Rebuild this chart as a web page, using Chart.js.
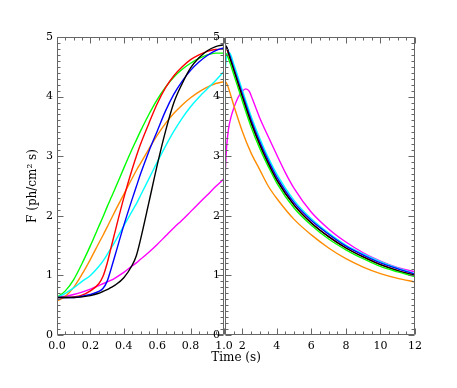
<!DOCTYPE html>
<html>
<head>
<meta charset="utf-8">
<script src="https://cdn.jsdelivr.net/npm/chart.js@4.4.0/dist/chart.umd.min.js"></script>
<style>
  html, body { margin: 0; padding: 0; background: #fff; }
  #wrap { position: relative; width: 457px; height: 388px; }
  #wrap canvas { position: absolute; left: 0; top: 0; }
</style>
</head>
<body>
<div id="wrap">
  <canvas id="riseChart" width="457" height="388"></canvas>
  <canvas id="decayChart" width="457" height="388"></canvas>
</div>
<script>
// rise phase, 0 - 1 s
const riseTime = [0, 0.05, 0.1, 0.15, 0.2, 0.25, 0.275, 0.3, 0.325, 0.35, 0.4, 0.45, 0.475, 0.5, 0.55, 0.6, 0.65, 0.7, 0.75, 0.8, 0.85, 0.9, 0.95, 1.0];
const riseBlack   = [0.63, 0.63, 0.63, 0.64, 0.66, 0.70, 0.73, 0.76, 0.80, 0.84, 0.96, 1.17, 1.33, 1.60, 2.22, 2.85, 3.42, 3.90, 4.22, 4.48, 4.65, 4.77, 4.84, 4.87];
const riseBlue    = [0.63, 0.63, 0.63, 0.65, 0.68, 0.73, 0.78, 0.90, 1.12, 1.36, 1.84, 2.28, 2.49, 2.70, 3.08, 3.42, 3.76, 4.04, 4.26, 4.44, 4.58, 4.69, 4.77, 4.82];
const riseRed     = [0.63, 0.63, 0.64, 0.67, 0.74, 0.86, 0.98, 1.20, 1.48, 1.76, 2.30, 2.78, 3.00, 3.20, 3.55, 3.88, 4.15, 4.35, 4.50, 4.62, 4.70, 4.76, 4.79, 4.80];
const riseGreen   = [0.63, 0.74, 0.93, 1.20, 1.50, 1.82, 1.98, 2.15, 2.31, 2.47, 2.80, 3.12, 3.27, 3.42, 3.70, 3.95, 4.16, 4.33, 4.46, 4.56, 4.64, 4.70, 4.73, 4.73];
const riseOrange  = [0.57, 0.65, 0.80, 1.02, 1.27, 1.54, 1.67, 1.81, 1.95, 2.09, 2.36, 2.63, 2.76, 2.88, 3.12, 3.35, 3.55, 3.72, 3.86, 3.98, 4.08, 4.16, 4.22, 4.25];
const riseCyan    = [0.63, 0.70, 0.79, 0.90, 1.00, 1.15, 1.24, 1.35, 1.46, 1.58, 1.83, 2.08, 2.20, 2.34, 2.62, 2.90, 3.17, 3.42, 3.64, 3.83, 3.99, 4.13, 4.27, 4.42];
const riseMagenta = [0.63, 0.65, 0.68, 0.72, 0.77, 0.83, 0.86, 0.89, 0.92, 0.96, 1.05, 1.16, 1.21, 1.27, 1.39, 1.52, 1.66, 1.80, 1.93, 2.07, 2.21, 2.35, 2.49, 2.62];

// decay phase, 1 - 12 s
const decayTime = [1, 1.1, 1.25, 1.5, 2, 2.5, 3, 3.5, 4, 5, 6, 7, 8, 9, 10, 11, 12];
const decayBlack  = [4.87, 4.83, 4.68, 4.45, 4.00, 3.57, 3.20, 2.88, 2.60, 2.18, 1.88, 1.65, 1.46, 1.31, 1.18, 1.08, 1.00];
const decayBlue   = [4.82, 4.82, 4.71, 4.49, 4.05, 3.62, 3.25, 2.93, 2.65, 2.22, 1.92, 1.69, 1.49, 1.34, 1.21, 1.11, 1.02];
const decayRed    = [4.80, 4.79, 4.67, 4.45, 4.00, 3.57, 3.20, 2.88, 2.60, 2.18, 1.88, 1.65, 1.46, 1.31, 1.18, 1.08, 1.00];
const decayGreen  = [4.73, 4.71, 4.60, 4.38, 3.93, 3.50, 3.14, 2.83, 2.55, 2.13, 1.84, 1.61, 1.43, 1.28, 1.15, 1.06, 0.98];
const decayCyan   = [4.42, 4.68, 4.74, 4.55, 4.11, 3.68, 3.31, 2.98, 2.70, 2.26, 1.95, 1.71, 1.51, 1.36, 1.23, 1.12, 1.03];
const decayOrange = [4.25, 4.22, 4.10, 3.86, 3.42, 3.06, 2.78, 2.50, 2.29, 1.94, 1.68, 1.46, 1.28, 1.14, 1.03, 0.95, 0.89];
const pulseTime = [1, 1.05, 1.1, 1.2, 1.35, 1.5, 1.75, 2, 2.2, 2.4, 2.6, 2.8, 3, 3.5, 4, 4.5, 5, 6, 7, 8, 9, 10, 11, 12];
const decayMagenta = [2.62, 2.95, 3.18, 3.45, 3.66, 3.80, 3.98, 4.09, 4.13, 4.09, 3.95, 3.80, 3.65, 3.33, 3.02, 2.72, 2.46, 2.06, 1.78, 1.56, 1.38, 1.24, 1.13, 1.06];

// axis ticks
const riseTicks = [0, 0.2, 0.4, 0.6, 0.8, 1.0];
const decayTicks = [2, 4, 6, 8, 10, 12];
const fluxTicks = [0, 1, 2, 3, 4, 5];

const COLORS = {
    black: '#000000',
    blue: '#0000ff',
    red: '#ff0000',
    green: '#00ff00',
    cyan: '#00ffff',
    orange: '#ff8c00',
    magenta: '#ff00ff'
};

const FONT = "'DejaVu Serif', 'Liberation Serif', serif";
Chart.defaults.font.family = FONT;
Chart.defaults.font.size = 11;
Chart.defaults.color = '#000';

function lineSet(label, times, values, color) {
    return {
        label: label,
        data: times.map((t, i) => ({ x: t, y: values[i] })),
        borderColor: color,
        borderWidth: 1.4,
        pointRadius: 0,
        fill: false,
        cubicInterpolationMode: 'monotone'
    };
}

// IDL style frame: box with ticks pointing inwards on all four sides
const inwardTicks = {
    id: 'inwardTicks',
    afterDatasetsDraw(chart, args, opts) {
        const { ctx, chartArea: a } = chart;
        const xs = chart.scales.x, ys = chart.scales.y;
        const L = Math.round(a.left) + 0.5, R = Math.round(a.right) - 0.5;
        const T = Math.round(a.top) + 0.5, B = Math.round(a.bottom) - 0.5;
        ctx.save();
        ctx.strokeStyle = opts.color;
        ctx.lineWidth = 1;
        ctx.beginPath();
        for (let v = xs.min; v <= xs.max + 1e-9; v += opts.xStep) {
            const major = opts.xMajor.some(m => Math.abs(m - v) < 1e-6);
            const len = major ? 6 : 3;
            const p = Math.round(xs.getPixelForValue(v)) + 0.5;
            ctx.moveTo(p, B); ctx.lineTo(p, B - len);
            ctx.moveTo(p, T); ctx.lineTo(p, T + len);
        }
        for (let v = ys.min; v <= ys.max + 1e-9; v += opts.yStep) {
            const major = opts.yMajor.some(m => Math.abs(m - v) < 1e-6);
            const len = major ? 6 : 3;
            const p = Math.round(ys.getPixelForValue(v)) + 0.5;
            ctx.moveTo(L, p); ctx.lineTo(L + len, p);
            ctx.moveTo(R, p); ctx.lineTo(R - len, p);
        }
        ctx.rect(L, T, R - L, B - T);
        ctx.stroke();
        ctx.restore();
    }
};

function fixedTicks(list) {
    return function (scale) {
        scale.ticks = list.map(v => ({ value: v }));
    };
}

const riseChart = new Chart(document.getElementById('riseChart'), {
    type: 'line',
    data: {
        datasets: [
            lineSet('black', riseTime, riseBlack, COLORS.black),
            lineSet('blue', riseTime, riseBlue, COLORS.blue),
            lineSet('red', riseTime, riseRed, COLORS.red),
            lineSet('cyan', riseTime, riseCyan, COLORS.cyan),
            lineSet('green', riseTime, riseGreen, COLORS.green),
            lineSet('orange', riseTime, riseOrange, COLORS.orange),
            lineSet('magenta', riseTime, riseMagenta, COLORS.magenta)
        ]
    },
    options: {
        responsive: false,
        animation: false,
        devicePixelRatio: 1,
        layout: { padding: { top: 37, right: 233, bottom: 0, left: 0 } },
        plugins: {
            legend: { display: false },
            tooltip: { enabled: false },
            inwardTicks: { color: '#666', xStep: 0.05, xMajor: riseTicks, yStep: 0.1, yMajor: fluxTicks }
        },
        scales: {
            x: {
                type: 'linear', min: 0, max: 1,
                grid: { display: false, drawTicks: false },
                border: { display: false },
                afterBuildTicks: fixedTicks(riseTicks),
                afterFit(scale) { scale.height = 53; },
                ticks: { padding: 5, maxRotation: 0, callback: v => v.toFixed(1) }
            },
            y: {
                type: 'linear', min: 0, max: 5,
                grid: { display: false, drawTicks: false },
                border: { display: false },
                afterBuildTicks: fixedTicks(fluxTicks),
                afterFit(scale) { scale.width = 57; },
                ticks: { padding: 4 },
                title: {
                    display: true,
                    text: 'F (ph/cm² s)',
                    font: { size: 12 },
                    padding: { top: 26, bottom: 0 }
                }
            }
        }
    },
    plugins: [inwardTicks]
});

// shared x title centred under both panels
const timeTitle = {
    id: 'timeTitle',
    afterDraw(chart) {
        const ctx = chart.ctx;
        const cx = (riseChart.chartArea.left + chart.chartArea.right) / 2;
        ctx.save();
        ctx.font = '12px ' + FONT;
        ctx.fillStyle = '#000';
        ctx.textAlign = 'center';
        ctx.textBaseline = 'middle';
        ctx.fillText('Time (s)', cx, chart.chartArea.bottom + 23);
        ctx.restore();
    }
};

const decayChart = new Chart(document.getElementById('decayChart'), {
    type: 'line',
    data: {
        datasets: [
            lineSet('green', decayTime, decayGreen, COLORS.green),
            lineSet('black', decayTime, decayBlack, COLORS.black),
            lineSet('red', decayTime, decayRed, COLORS.red),
            lineSet('blue', decayTime, decayBlue, COLORS.blue),
            lineSet('cyan', decayTime, decayCyan, COLORS.cyan),
            lineSet('orange', decayTime, decayOrange, COLORS.orange),
            lineSet('magenta', pulseTime, decayMagenta, COLORS.magenta)
        ]
    },
    options: {
        responsive: false,
        animation: false,
        devicePixelRatio: 1,
        layout: { padding: { top: 37, right: 42, bottom: 0, left: 0 } },
        plugins: {
            legend: { display: false },
            tooltip: { enabled: false },
            inwardTicks: { color: '#666', xStep: 0.5, xMajor: decayTicks, yStep: 0.1, yMajor: fluxTicks }
        },
        scales: {
            x: {
                type: 'linear', min: 1, max: 12,
                grid: { display: false, drawTicks: false },
                border: { display: false },
                afterBuildTicks: fixedTicks(decayTicks),
                afterFit(scale) { scale.height = 53; },
                ticks: { padding: 5, maxRotation: 0 }
            },
            y: {
                type: 'linear', min: 0, max: 5,
                grid: { display: false, drawTicks: false },
                border: { display: false },
                afterBuildTicks: fixedTicks(fluxTicks),
                afterFit(scale) { scale.width = 225; },
                ticks: { padding: 5 }
            }
        }
    },
    plugins: [inwardTicks, timeTitle]
});
</script>
</body>
</html>
